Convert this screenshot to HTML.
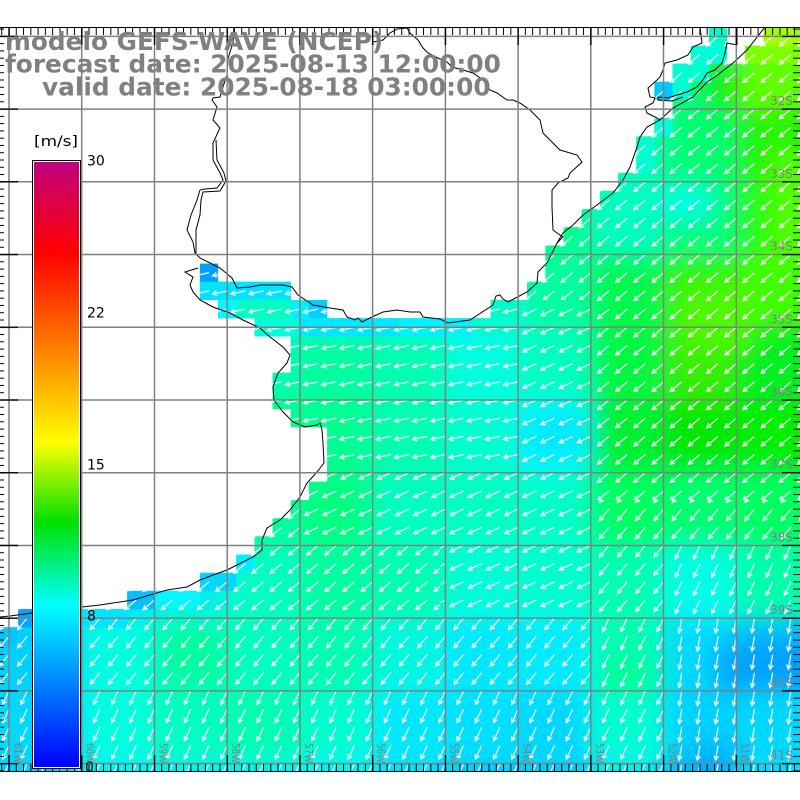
<!DOCTYPE html>
<html><head><meta charset="utf-8"><style>html,body{margin:0;padding:0;background:#fff;width:800px;height:800px;overflow:hidden}svg{display:block}</style></head>
<body>
<svg width="800" height="800" viewBox="0 0 800 800" xmlns="http://www.w3.org/2000/svg">
<defs>
<clipPath id="sea"><path d="M800,27 H763.5 V45.5 H745.3 V63.6 H727.2 V27 H709 V45.5 H690.8 V63.6 H672.6 V81.8 H654.4 V100 H672.6 V118.2 H654.4 V136.4 H636.3 V172.7 H618.1 V190.9 H599.9 V209.1 H581.7 V227.3 H563.5 V245.5 H545.4 V281.8 H527.2 V300 H490.8 V318.2 H327.2 V300 H290.8 V281.8 H218.1 V263.6 H199.9 V300 H218.1 V318.2 H254.5 V336.4 H290.8 V372.7 H272.6 V409.1 H290.8 V427.3 H327.2 V481.8 H309 V500 H290.8 V518.2 H272.6 V536.4 H254.5 V554.5 H236.3 V572.7 H199.9 V590.9 H127.2 V609.1 H18.1 V627.3 H0 V772 H800 Z"/></clipPath>
<clipPath id="mapc"><rect x="0" y="27" width="800" height="745"/></clipPath>
<filter id="bl" filterUnits="userSpaceOnUse" x="0" y="0" width="800" height="800"><feGaussianBlur stdDeviation="13"/></filter>
<g id="field">
<rect x="0" y="0" width="590.8" height="109.1" fill="#00ffc0"/>
<rect x="590.8" y="0" width="73" height="109.1" fill="#00ffc8"/>
<rect x="663.5" y="0" width="73" height="109.1" fill="#00ff90"/>
<rect x="736.3" y="0" width="63.7" height="109.1" fill="#60ff00"/>
<rect x="0" y="109.1" width="663.5" height="73" fill="#00ffb8"/>
<rect x="663.5" y="109.1" width="73" height="73" fill="#00ff70"/>
<rect x="736.3" y="109.1" width="63.7" height="73" fill="#20f400"/>
<rect x="0" y="181.8" width="518.1" height="73" fill="#00ffa0"/>
<rect x="518.1" y="181.8" width="73" height="73" fill="#00ff90"/>
<rect x="590.8" y="181.8" width="73" height="73" fill="#00ffc0"/>
<rect x="663.5" y="181.8" width="73" height="73" fill="#00ff80"/>
<rect x="736.3" y="181.8" width="63.7" height="73" fill="#20ff10"/>
<rect x="0" y="254.5" width="227.2" height="73" fill="#00e0ff"/>
<rect x="227.2" y="254.5" width="73" height="73" fill="#00f4e8"/>
<rect x="299.9" y="254.5" width="146" height="73" fill="#00e8ff"/>
<rect x="445.4" y="254.5" width="73" height="73" fill="#00f0ff"/>
<rect x="518.1" y="254.5" width="73" height="73" fill="#00ffa0"/>
<rect x="590.8" y="254.5" width="73" height="73" fill="#00f850"/>
<rect x="663.5" y="254.5" width="73" height="73" fill="#30f400"/>
<rect x="736.3" y="254.5" width="63.7" height="73" fill="#40ff00"/>
<rect x="0" y="327.3" width="227.2" height="73" fill="#00ffc0"/>
<rect x="227.2" y="327.3" width="73" height="73" fill="#00ffb0"/>
<rect x="299.9" y="327.3" width="73" height="73" fill="#00ffa0"/>
<rect x="372.6" y="327.3" width="73" height="73" fill="#00ffb0"/>
<rect x="445.4" y="327.3" width="73" height="73" fill="#00ffe0"/>
<rect x="518.1" y="327.3" width="73" height="73" fill="#00ffc0"/>
<rect x="590.8" y="327.3" width="73" height="73" fill="#00f840"/>
<rect x="663.5" y="327.3" width="73" height="73" fill="#30f000"/>
<rect x="736.3" y="327.3" width="63.7" height="73" fill="#00f020"/>
<rect x="0" y="400" width="372.6" height="73" fill="#00ff90"/>
<rect x="372.6" y="400" width="73" height="73" fill="#00ffb0"/>
<rect x="445.4" y="400" width="73" height="73" fill="#00ffd0"/>
<rect x="518.1" y="400" width="73" height="73" fill="#00f8ff"/>
<rect x="590.8" y="400" width="73" height="73" fill="#00f030"/>
<rect x="663.5" y="400" width="73" height="73" fill="#00e800"/>
<rect x="736.3" y="400" width="63.7" height="73" fill="#00f000"/>
<rect x="0" y="472.7" width="227.2" height="73" fill="#00ffc0"/>
<rect x="227.2" y="472.7" width="73" height="73" fill="#00ffa0"/>
<rect x="299.9" y="472.7" width="73" height="73" fill="#00ff80"/>
<rect x="372.6" y="472.7" width="146" height="73" fill="#00ffc0"/>
<rect x="518.1" y="472.7" width="73" height="73" fill="#00ffc8"/>
<rect x="590.8" y="472.7" width="73" height="73" fill="#00ff60"/>
<rect x="663.5" y="472.7" width="73" height="73" fill="#00ff70"/>
<rect x="736.3" y="472.7" width="63.7" height="73" fill="#00ff60"/>
<rect x="0" y="545.5" width="9" height="73" fill="#00c8ff"/>
<rect x="9" y="545.5" width="73" height="73" fill="#00d0ff"/>
<rect x="81.7" y="545.5" width="73" height="73" fill="#00e0ff"/>
<rect x="154.5" y="545.5" width="73" height="73" fill="#00f0f0"/>
<rect x="227.2" y="545.5" width="73" height="73" fill="#00ffc0"/>
<rect x="299.9" y="545.5" width="73" height="73" fill="#00ffa0"/>
<rect x="372.6" y="545.5" width="73" height="73" fill="#00ffb0"/>
<rect x="445.4" y="545.5" width="73" height="73" fill="#00ffd8"/>
<rect x="518.1" y="545.5" width="73" height="73" fill="#00ffd0"/>
<rect x="590.8" y="545.5" width="73" height="73" fill="#00ffb0"/>
<rect x="663.5" y="545.5" width="73" height="73" fill="#00ffe8"/>
<rect x="736.3" y="545.5" width="63.7" height="73" fill="#00ffa8"/>
<rect x="0" y="618.2" width="82" height="73" fill="#00d0ff"/>
<rect x="81.7" y="618.2" width="73" height="73" fill="#00ffe0"/>
<rect x="154.5" y="618.2" width="73" height="73" fill="#00ffa0"/>
<rect x="227.2" y="618.2" width="73" height="73" fill="#00ffc0"/>
<rect x="299.9" y="618.2" width="73" height="73" fill="#00ffb0"/>
<rect x="372.6" y="618.2" width="73" height="73" fill="#00f8e0"/>
<rect x="445.4" y="618.2" width="73" height="73" fill="#00e8ff"/>
<rect x="518.1" y="618.2" width="73" height="73" fill="#00ecff"/>
<rect x="590.8" y="618.2" width="73" height="73" fill="#00ffb0"/>
<rect x="663.5" y="618.2" width="73" height="73" fill="#00d8ff"/>
<rect x="736.3" y="618.2" width="63.7" height="73" fill="#00b8ff"/>
<rect x="0" y="690.9" width="82" height="73" fill="#00d8ff"/>
<rect x="81.7" y="690.9" width="73" height="73" fill="#00ffe0"/>
<rect x="154.5" y="690.9" width="73" height="73" fill="#00ffc0"/>
<rect x="227.2" y="690.9" width="73" height="73" fill="#00ffb0"/>
<rect x="299.9" y="690.9" width="73" height="73" fill="#00ffd0"/>
<rect x="372.6" y="690.9" width="73" height="73" fill="#00e8ff"/>
<rect x="445.4" y="690.9" width="73" height="73" fill="#00e0ff"/>
<rect x="518.1" y="690.9" width="73" height="73" fill="#00d8ff"/>
<rect x="590.8" y="690.9" width="73" height="73" fill="#00ffd0"/>
<rect x="663.5" y="690.9" width="73" height="73" fill="#00d0ff"/>
<rect x="736.3" y="690.9" width="63.7" height="73" fill="#00d8ff"/>
<rect x="0" y="763.6" width="82" height="36.4" fill="#00d0ff"/>
<rect x="81.7" y="763.6" width="291" height="36.4" fill="#00f0ff"/>
<rect x="372.6" y="763.6" width="73" height="36.4" fill="#00e0ff"/>
<rect x="445.4" y="763.6" width="146" height="36.4" fill="#00c8ff"/>
<rect x="590.8" y="763.6" width="73" height="36.4" fill="#00e8ff"/>
<rect x="663.5" y="763.6" width="73" height="36.4" fill="#00b0ff"/>
<rect x="736.3" y="763.6" width="63.7" height="36.4" fill="#00e0ff"/>
<rect x="715" y="645" width="85" height="45" fill="#00a0ff"/>
<rect x="690" y="745" width="46" height="30" fill="#00a8ff"/>
<rect x="527" y="410" width="53" height="47" fill="#00e8ff"/>
<rect x="600" y="663" width="63" height="30" fill="#00ff90"/>
<rect x="680" y="290" width="70" height="60" fill="#50f800"/>
<rect x="770" y="150" width="30" height="110" fill="#50ff00"/>
<rect x="665" y="190" width="45" height="25" fill="#00ffff"/>
<rect x="700" y="60" width="40" height="50" fill="#10f000"/>
</g>
<pattern id="a12" patternUnits="userSpaceOnUse" width="18.1818" height="18.1818" x="-7.5" y="30.36"><path d="M16.5,6 L1.83,9.12 M5.66,5.91 L1.83,9.12 L6.64,10.5" stroke="#fff" fill="none" stroke-width="1.2"/></pattern>
<pattern id="a25" patternUnits="userSpaceOnUse" width="18.1818" height="18.1818" x="-7" y="32.36"><path d="M16,4 L2.4,10.34 M5.41,6.35 L2.4,10.34 L7.39,10.6" stroke="#fff" fill="none" stroke-width="1.2"/></pattern>
<pattern id="a40" patternUnits="userSpaceOnUse" width="18.1818" height="18.1818" x="-5.5" y="33.36"><path d="M14.5,3 L3.01,12.64 M4.88,8 L3.01,12.64 L7.9,11.6" stroke="#fff" fill="none" stroke-width="1.2"/></pattern>
<pattern id="a50" patternUnits="userSpaceOnUse" width="18.1818" height="18.1818" x="-4" y="33.86"><path d="M13,2.5 L3.36,13.99 M4.4,9.1 L3.36,13.99 L8,12.12" stroke="#fff" fill="none" stroke-width="1.2"/></pattern>
<pattern id="a65" patternUnits="userSpaceOnUse" width="18.1818" height="18.1818" x="-2" y="34.36"><path d="M11,2 L4.66,15.59 M4.4,10.6 L4.66,15.59 L8.65,12.58" stroke="#fff" fill="none" stroke-width="1.2"/></pattern>
<pattern id="a80" patternUnits="userSpaceOnUse" width="18.1818" height="18.1818" x="-1" y="34.86"><path d="M10,1.5 L7.4,16.27 M5.85,11.51 L7.4,16.27 L10.48,12.33" stroke="#fff" fill="none" stroke-width="1.2"/></pattern>
<pattern id="tv" patternUnits="userSpaceOnUse" x="8.5" y="0" width="7.2727" height="10"><rect width="1" height="10" fill="#000"/></pattern>
<pattern id="tvM" patternUnits="userSpaceOnUse" x="8.4" y="0" width="72.727" height="20"><rect width="1.3" height="20" fill="#000"/></pattern>
<pattern id="th" patternUnits="userSpaceOnUse" x="0" y="35.86" width="10" height="7.2727"><rect width="10" height="1" fill="#000"/></pattern>
<pattern id="thM" patternUnits="userSpaceOnUse" x="0" y="35.7" width="20" height="72.727"><rect width="20" height="1.3" fill="#000"/></pattern>
<linearGradient id="cb" x1="0" y1="0" x2="0" y2="1">
<stop offset="0" stop-color="#c0007f"/><stop offset="0.15" stop-color="#ff0000"/><stop offset="0.31" stop-color="#ff8000"/><stop offset="0.464" stop-color="#ffff00"/><stop offset="0.595" stop-color="#00e000"/><stop offset="0.732" stop-color="#00ffff"/><stop offset="1" stop-color="#0000ff"/>
</linearGradient>
</defs>
<rect width="800" height="800" fill="#fff"/>
<g clip-path="url(#mapc)">
<g clip-path="url(#sea)">
<use href="#field"/>
<use href="#field" filter="url(#bl)"/>
<rect x="199.9" y="263.6" width="18.2" height="18.2" fill="#00a0ff"/>
<rect x="199.9" y="281.8" width="90.9" height="18.2" fill="#00e4ff"/>
<rect x="218.1" y="300" width="18.2" height="18.2" fill="#00faff"/>
<rect x="236.3" y="300" width="54.5" height="18.2" fill="#00ffc0"/>
<rect x="290.8" y="300" width="18.2" height="18.2" fill="#00f0ff"/>
<rect x="309" y="300" width="18.2" height="18.2" fill="#00d0ff"/>
<rect x="254.5" y="318.2" width="45.5" height="18.2" fill="#00ffd8"/>
<rect x="300" y="318.2" width="100" height="18.2" fill="#00e8ff"/>
<rect x="400" y="318.2" width="72.7" height="18.2" fill="#00f2ff"/>
<rect x="472.7" y="318.2" width="54.5" height="18.2" fill="#00ffd0"/>
<rect x="490.8" y="300" width="36.4" height="18.2" fill="#00ffc8"/>
<rect x="709" y="27" width="18.2" height="18.5" fill="#00ffc8"/>
<rect x="690.8" y="45.5" width="36.4" height="18.2" fill="#00ffd8"/>
<rect x="672.6" y="63.6" width="36.4" height="18.2" fill="#00ffd0"/>
<rect x="654.4" y="81.8" width="18.2" height="18.2" fill="#00c8ff"/>
<rect x="672.6" y="81.8" width="18.2" height="18.2" fill="#00ffd0"/>
<rect x="654.4" y="118.2" width="18.2" height="18.2" fill="#00ffd8"/>
<rect x="636.3" y="136.4" width="18.2" height="36.4" fill="#00ffd0"/>
<rect x="763.5" y="27" width="36.5" height="18.5" fill="#a0ff00"/>
<rect x="745.3" y="45.5" width="54.7" height="18.2" fill="#80ff00"/>
<rect x="18.1" y="609.1" width="18.2" height="18.2" fill="#00a8ff"/>
<rect x="0" y="627.3" width="18.2" height="18.2" fill="#00c8ff"/>
<rect x="81.8" y="609.1" width="45.4" height="18.2" fill="#00e4ff"/>
<rect x="127.2" y="590.9" width="27.3" height="18.2" fill="#00c0ff"/>
<rect x="154.5" y="590.9" width="45.4" height="18.2" fill="#00f8ff"/>
<rect x="199.9" y="572.7" width="36.4" height="18.2" fill="#00d8ff"/>
<rect x="236.3" y="554.5" width="18.2" height="18.2" fill="#00f0ff"/>
<rect x="180" y="255" width="265" height="217" fill="url(#a12)"/>
<rect x="445" y="290" width="75" height="182" fill="url(#a12)"/>
<rect x="520" y="300" width="70" height="245" fill="url(#a25)"/>
<rect x="300" y="472" width="220" height="73" fill="url(#a25)"/>
<rect x="440" y="545" width="150" height="73" fill="url(#a25)"/>
<rect x="590" y="0" width="210" height="500" fill="url(#a40)"/>
<rect x="480" y="0" width="110" height="300" fill="url(#a40)"/>
<rect x="200" y="472" width="100" height="73" fill="url(#a40)"/>
<rect x="0" y="545" width="440" height="73" fill="url(#a40)"/>
<rect x="590" y="500" width="73" height="118" fill="url(#a50)"/>
<rect x="663" y="500" width="137" height="45" fill="url(#a50)"/>
<rect x="0" y="618" width="590" height="72" fill="url(#a50)"/>
<rect x="0" y="690" width="663" height="82" fill="url(#a65)"/>
<rect x="590" y="618" width="73" height="72" fill="url(#a65)"/>
<rect x="663" y="545" width="137" height="73" fill="url(#a65)"/>
<rect x="663" y="618" width="137" height="154" fill="url(#a80)"/>
</g>
<g fill="none" stroke="#000" stroke-width="1">
<path d="M234,27 L233,43 L228,58 L227,75 L223,87 L220,97 L213,98 L212,100 L217,107 L213,120 L220,128 L213,143 L213,160 L220,173 L223,180 L217,188 L205,189 L200,190 L197,200 L191,215 L187,230 L193,242 L195,253 L200,258 L220,268 L232,278 L237,288 L250,287 L260,285 L283,285 L292,287 L298,295 L313,305 L330,308 L343,310 L347,317 L355,320 L358,318 L362,322 L372,317 L383,312 L397,310 L410,312 L420,312 L423,317 L440,319 L448,323 L470,320 L493,305 L496,296 L500,295 L503,299 L508,302 L527,292 L537,283 L538,272 L547,263 L552,253 L557,243 L563,233 L573,225 L583,215 L597,205 L613,193 L623,180 L630,167 L637,147 L640,137 L647,127 L660,120 L673,108 L693,97 L707,82 L720,73 L733,63 L747,50 L765,27"/>
<path d="M216,140 L217,160 L224,173 L226,181 L220,191 L203,192 L201,200 L200,215 L196,230 L196,253"/>
<path d="M198,268 L185,272 L193,277 L190,285 L193,292 L200,300 L213,307 L230,313 L243,320 L260,328 L270,337 L283,347 L290,355 L287,363 L278,373 L273,387 L274,400 L283,412 L293,422 L305,427 L317,425 L320,423 L322,430 L323,443 L324,463 L317,472 L307,483 L300,497 L290,510 L280,520 L267,528 L262,540 L262,550 L253,557 L237,565 L227,570 L213,575 L200,580 L187,587 L167,590 L150,595 L133,600 L113,603 L100,605 L82,607 L32,613 L10,616 L0,617"/>
<path d="M373,42 L383,40 L390,33 L397,29 L407,28 L410,33 L418,40 L423,48 L428,53 L438,58 L447,62 L452,67 L463,70 L473,73 L483,80 L490,90 L497,93 L507,100 L513,100 L520,103 L530,110 L540,120 L543,133 L553,143 L560,150 L577,155 L582,162 L570,173 L568,178 L558,183 L552,190 L552,207 L553,230 L560,235 L563,237 L557,243"/>
<path d="M700,27 L702,43 L693,47 L688,55 L677,60 L665,63 L663,70 L660,77 L657,80 L648,88 L650,97 L655,98 L653,103 L645,107 L647,113 L655,117 L660,120"/>
<path d="M737,27 L737,45 L727,43 L725,53 L722,63 L715,70 L707,73 L703,80 L697,87 L687,92 L677,95 L668,98 L658,97 L658,100 L672,101 L683,97"/>
</g>
<path d="M9,27V772 M81.7,27V772 M154.5,27V772 M227.2,27V772 M299.9,27V772 M372.6,27V772 M445.4,27V772 M518.1,27V772 M590.8,27V772 M663.5,27V772 M736.3,27V772 M0,36.4H800 M0,109.1H800 M0,181.8H800 M0,254.5H800 M0,327.3H800 M0,400H800 M0,472.7H800 M0,545.5H800 M0,618.2H800 M0,690.9H800 M0,763.6H800" stroke="#808080" stroke-width="1.5" fill="none"/>
<rect x="0" y="27" width="800" height="8" fill="url(#tv)"/>
<rect x="0" y="764" width="800" height="8" fill="url(#tv)"/>
<rect x="0" y="27" width="800" height="18" fill="url(#tvM)"/>
<rect x="0" y="755" width="800" height="17" fill="url(#tvM)"/>
<rect x="0" y="27" width="4" height="745" fill="url(#th)"/>
<rect x="793" y="27" width="7" height="745" fill="url(#th)"/>
<rect x="0" y="27" width="18" height="745" fill="url(#thM)"/>
<rect x="782" y="27" width="18" height="745" fill="url(#thM)"/>
<g font-family="DejaVu Sans, Liberation Sans, sans-serif" font-size="12" fill="#808080" text-anchor="end">
<text x="793" y="105.1">32S</text><text x="793" y="177.8">33S</text><text x="793" y="250.5">34S</text><text x="793" y="323.3">35S</text><text x="793" y="396">36S</text><text x="793" y="468.7">37S</text><text x="793" y="541.5">38S</text><text x="793" y="614.2">39S</text><text x="793" y="686.9">40S</text><text x="793" y="759.6">41S</text>
</g>
<g font-family="DejaVu Sans, Liberation Sans, sans-serif" font-size="11" fill="#808080">
<text transform="translate(14,743) rotate(90)" textLength="20" lengthAdjust="spacingAndGlyphs">61W</text>
<text transform="translate(86.7,743) rotate(90)" textLength="20" lengthAdjust="spacingAndGlyphs">60W</text>
<text transform="translate(159.5,743) rotate(90)" textLength="20" lengthAdjust="spacingAndGlyphs">59W</text>
<text transform="translate(232.2,743) rotate(90)" textLength="20" lengthAdjust="spacingAndGlyphs">58W</text>
<text transform="translate(304.9,743) rotate(90)" textLength="20" lengthAdjust="spacingAndGlyphs">57W</text>
<text transform="translate(377.6,743) rotate(90)" textLength="20" lengthAdjust="spacingAndGlyphs">56W</text>
<text transform="translate(450.4,743) rotate(90)" textLength="20" lengthAdjust="spacingAndGlyphs">55W</text>
<text transform="translate(523.1,743) rotate(90)" textLength="20" lengthAdjust="spacingAndGlyphs">54W</text>
<text transform="translate(595.8,743) rotate(90)" textLength="20" lengthAdjust="spacingAndGlyphs">53W</text>
<text transform="translate(668.5,743) rotate(90)" textLength="20" lengthAdjust="spacingAndGlyphs">52W</text>
<text transform="translate(741.3,743) rotate(90)" textLength="20" lengthAdjust="spacingAndGlyphs">51W</text>
</g>
</g>
<path d="M0,27.5H800 M0,771.5H800" stroke="#000" stroke-width="1"/>
<g font-family="DejaVu Sans, Liberation Sans, sans-serif" font-weight="bold" font-size="24.8" fill="#808080">
<text x="5" y="50">modelo GEFS-WAVE (NCEP)</text>
<text x="5" y="72.6">forecast date: 2025-08-13 12:00:00</text>
<text x="42" y="95.3">valid date: 2025-08-18 03:00:00</text>
</g>
<rect x="32.5" y="160.5" width="48" height="608" fill="#fff" stroke="#000" stroke-width="1"/>
<rect x="34" y="162" width="45" height="605" fill="url(#cb)"/>
<g font-family="DejaVu Sans, Liberation Sans, sans-serif" font-size="14" fill="#000">
<text x="34" y="146" textLength="44" lengthAdjust="spacingAndGlyphs">[m/s]</text>
<text x="87" y="165.5">30</text>
<text x="87" y="317.5">22</text>
<text x="87" y="469.5">15</text>
<text x="87" y="620.5">8</text>
<text x="85" y="772">0</text>
</g>
</svg>
</body></html>
